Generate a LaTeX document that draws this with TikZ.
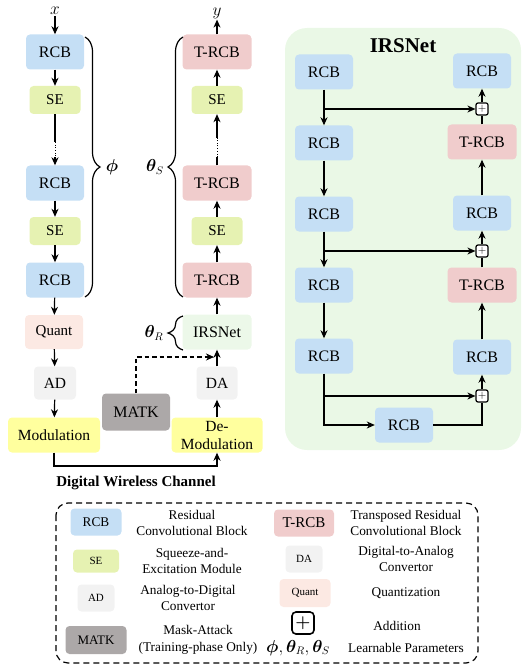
\documentclass[tikz,border=0pt]{standalone}
\usepackage{fontspec}
\setmainfont{Liberation Serif}
\usepackage{amsmath,bm}
\usetikzlibrary{arrows.meta,decorations.pathreplacing}
\definecolor{rcbc}{RGB}{197,223,245}
\definecolor{sec}{RGB}{230,242,178}
\definecolor{trcbc}{RGB}{240,204,204}
\definecolor{quantc}{RGB}{252,233,227}
\definecolor{adc}{RGB}{242,242,242}
\definecolor{modc}{RGB}{255,255,158}
\definecolor{matkc}{RGB}{172,168,168}
\definecolor{irsc}{RGB}{236,248,233}
\definecolor{panelc}{RGB}{234,248,230}
\begin{document}
\begin{tikzpicture}[x=1pt,y=-1pt,
  box/.style={rounded corners=4pt, inner sep=0pt, align=center, font=\fontsize{16}{17.5}\selectfont},
  rcb/.style={box, fill=rcbc, minimum width=58pt, minimum height=35pt},
  trcb/.style={box, fill=trcbc, minimum width=69pt, minimum height=35pt},
  sebox/.style={box, fill=sec, minimum width=51pt, minimum height=28pt, font=\fontsize{15}{17}\selectfont},
  quantbox/.style={box, fill=quantc, minimum width=58pt, minimum height=34pt, font=\fontsize{15}{17}\selectfont},
  adbox/.style={box, fill=adc, minimum width=42pt, minimum height=33pt, font=\fontsize{15.5}{17}\selectfont},
  modbox/.style={box, fill=modc, minimum width=92pt, minimum height=35pt, font=\fontsize{15.5}{18}\selectfont},
  matkbox/.style={box, fill=matkc, minimum width=68pt, minimum height=37pt},
  irsbox/.style={box, fill=irsc, minimum width=69pt, minimum height=35pt},
  plusbox/.style={draw, line width=1.2pt, rounded corners=2pt, minimum size=12pt, inner sep=0pt, font=\fontsize{11}{11}\selectfont, fill=white},
  arr/.style={-{Stealth[length=8pt,width=7pt,inset=2.5pt]}, line width=1.2pt},
  ln/.style={line width=1.2pt},
  brc/.style={decorate, decoration={brace, amplitude=15pt}, line width=1.2pt},
  lgtxt/.style={align=center, font=\fontsize{13.3}{16.5}\selectfont},
  lgsmall/.style={font=\fontsize{11}{12}\selectfont},
]
\useasboundingbox (0,0) rectangle (523,671);

% IRSNet panel background
\fill[panelc, rounded corners=22pt] (285,28) rectangle (521,450);
\node[font=\bfseries\fontsize{21}{22}\selectfont] (ptitle) at (403,46) {IRSNet};

% ----- Left column (encoder) -----
\node[inner sep=1pt] (xin) at (55,11) {\fontsize{16}{16}\selectfont $x$};
\node[rcb] (e1) at (55,52) {RCB};
\node[sebox] (s1) at (55,100) {SE};
\node[rcb] (e2) at (55,183) {RCB};
\node[sebox] (s2) at (55,231) {SE};
\node[rcb] (e3) at (55,280) {RCB};
\node[quantbox] (q) at (54,332) {Quant};
\node[adbox] (ad) at (55,383) {AD};
\node[modbox] (mod) at (54,435) {Modulation};

\coordinate (ld1) at (55,142);
\coordinate (ld2) at (55,157);
\draw[arr] (xin) -- (e1);
\draw[arr] (e1) -- (s1);
\draw[ln] (s1.south) -- (ld1);
\draw[line width=0.7pt, dotted] (ld1) -- (ld2);
\draw[arr] (ld2) -- (e2.north);
\draw[arr] (e2) -- (s2);
\draw[arr] (s2) -- (e3);
\draw[arr] (e3) -- (q);
\draw[arr] (q) -- (ad);
\draw[arr] (ad) -- (mod);

% ----- Right column (decoder) -----
\node[inner sep=1pt] (yout) at (217,13) {\fontsize{16}{16}\selectfont $y$};
\node[trcb] (t1) at (217,52) {T-RCB};
\node[sebox] (rs1) at (217,100) {SE};
\node[trcb] (t2) at (217,183) {T-RCB};
\node[sebox] (rs2) at (217,231) {SE};
\node[trcb] (t3) at (217,280) {T-RCB};
\node[irsbox] (irs) at (217,332) {IRSNet};
\node[adbox, minimum width=41pt] (da) at (217,383) {DA};
\node[modbox, minimum width=91pt] (demod) at (217,435) {De-\\Modulation};
\node[matkbox] (matk) at (136,412) {MATK};

\coordinate (rd1) at (217,157);
\coordinate (rd2) at (217,138);
\draw[arr] (t1) -- (yout);
\draw[arr] (rs1) -- (t1);
\draw[ln] (t2.north) -- (rd1);
\draw[line width=0.7pt, dotted] (rd1) -- (rd2);
\draw[arr] (rd2) -- (rs1.south);
\draw[arr] (rs2) -- (t2);
\draw[arr] (t3) -- (rs2);
\draw[arr] (irs) -- (t3);
\draw[arr] (da) -- (irs);
\draw[arr] (demod) -- (da);

% MATK dashed
\coordinate (mk1) at (136,357);
\coordinate (mk2) at (214,357);
\draw[arr, dash pattern=on 4.5pt off 3pt] (matk.north) -- (mk1) -- (mk2);

% channel
\coordinate (ch1) at (54,466);
\coordinate (ch2) at (217,466);
\draw[arr] (mod.south) -- (ch1) -- (ch2) -- (demod.south);
\node[font=\bfseries\fontsize{15}{16}\selectfont] (chlab) at (136,483) {Digital Wireless Channel};

% braces
\coordinate (bp1) at (85,37);
\coordinate (bp2) at (85,297);
\draw[brc] (bp1) -- (bp2);
\node (phil) at (112,167) {\fontsize{16}{16}\selectfont $\bm{\phi}$};
\coordinate (bs1) at (183,297);
\coordinate (bs2) at (183,37);
\draw[brc] (bs1) -- (bs2);
\node (thsl) at (155,167) {\fontsize{16}{16}\selectfont $\bm{\theta}_S$};
\coordinate (br1) at (183,350);
\coordinate (br2) at (183,316);
\draw[brc] (br1) -- (br2);
\node (thrl) at (154,333) {\fontsize{16}{16}\selectfont $\bm{\theta}_R$};

% ----- IRSNet panel -----
\node[rcb] (p1) at (324,72) {RCB};
\node[rcb] (p2) at (324,143) {RCB};
\node[rcb] (p3) at (324,214) {RCB};
\node[rcb] (p4) at (324,285) {RCB};
\node[rcb] (p5) at (324,356) {RCB};
\node[rcb] (pb) at (404,425) {RCB};
\node[rcb] (q1) at (482,71) {RCB};
\node[trcb] (q2) at (482,142) {T-RCB};
\node[rcb] (q3) at (482,213) {RCB};
\node[trcb] (q4) at (482,285) {T-RCB};
\node[rcb] (q5) at (482,357) {RCB};
\node[plusbox] (a1) at (482,109) {$+$};
\node[plusbox] (a2) at (482,251) {$+$};
\node[plusbox] (a3) at (482,396) {$+$};

\coordinate (k1) at (324,109);
\coordinate (k2) at (324,251);
\coordinate (k3) at (324,396);
\coordinate (k4) at (324,425);
\coordinate (k5) at (482,425);

\draw[arr] (p1) -- (p2);
\draw[arr] (p2) -- (p3);
\draw[arr] (p3) -- (p4);
\draw[arr] (p4) -- (p5);
\draw[arr] (k1) -- (a1);
\draw[arr] (k2) -- (a2);
\draw[arr] (k3) -- (a3);
\draw[arr] (p5.south) -- (k4) -- (pb);
\draw[ln] (pb) -- (k5) -- (a3);
\draw[arr] (a3) -- (q5);
\draw[arr] (q5) -- (q4);
\draw[ln] (q4) -- (a2);
\draw[arr] (a2) -- (q3);
\draw[arr] (q3) -- (q2);
\draw[ln] (q2) -- (a1);
\draw[arr] (a1) -- (q1);

% ----- Legend -----
\draw[line width=1.2pt, dash pattern=on 6pt off 4pt, rounded corners=12pt] (56,503) rectangle (478,663);

\node[rcb, minimum width=51pt, minimum height=27pt, font=\fontsize{13.3}{14}\selectfont] (lrcb) at (96,522) {RCB};
\node[lgtxt] (lrcbt) at (192,523) {Residual\\Convolutional Block};
\node[trcb, minimum width=60pt, minimum height=27pt, font=\fontsize{15}{16}\selectfont] (ltrcb) at (304,523) {T-RCB};
\node[lgtxt] (ltrcbt) at (406,523) {Transposed Residual\\Convolutional Block};

\node[sebox, minimum width=46pt, minimum height=23pt, lgsmall] (lse) at (96,561) {SE};
\node[lgtxt] (lset) at (192,561) {Squeeze-and-\\Excitation Module};
\node[adbox, minimum width=37pt, minimum height=27pt, lgsmall] (lda) at (304,559) {DA};
\node[lgtxt] (ldat) at (406,559) {Digital-to-Analog\\Convertor};

\node[adbox, minimum width=37pt, minimum height=27pt, lgsmall] (lad) at (96,598) {AD};
\node[lgtxt] (ladt) at (188,598) {Analog-to-Digital\\Convertor};
\node[quantbox, minimum width=51pt, minimum height=28pt, lgsmall] (lq) at (305,593) {Quant};
\node[lgtxt] (lqt) at (406,593) {Quantization};

\node[matkbox, minimum width=61pt, minimum height=28pt, font=\fontsize{13}{14}\selectfont] (lm) at (96,640) {MATK};
\node[lgtxt] (lmt) at (198,640) {Mask-Attack\\(Training-phase Only)};
\node[plusbox, minimum size=22pt, line width=1.6pt, rounded corners=4pt, font=\fontsize{18}{18}\selectfont] (lp) at (303,623) {$\bm{+}$};
\node[lgtxt] (lpt) at (397,626) {Addition};
\node (lpar) at (298,648) {\fontsize{16}{16}\selectfont $\bm{\phi}, \bm{\theta}_R, \bm{\theta}_S$};
\node[lgtxt] (lpart) at (406,648) {Learnable Parameters};
\end{tikzpicture}
\end{document}
